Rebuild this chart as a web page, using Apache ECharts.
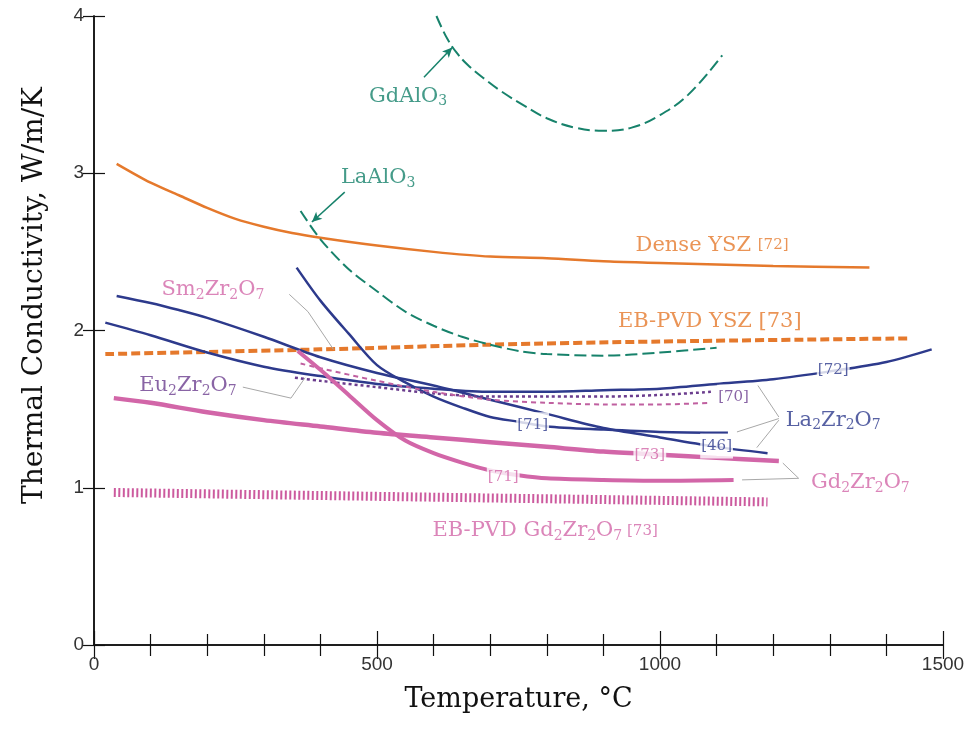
<!DOCTYPE html>
<html><head><meta charset="utf-8">
<script src="https://cdn.jsdelivr.net/npm/echarts@6/dist/echarts.min.js"></script>
<style>html,body{margin:0;padding:0;background:#fff}#c{width:977px;height:732px}</style>
</head><body><div id="c"></div><script>
// ---- data (temperature °C, thermal conductivity W/m/K) ----
const denseYSZ = [[40,3.06],[100,2.94],[150,2.86],[200,2.78],[250,2.71],[300,2.66],[350,2.62],[400,2.59],[500,2.54],[600,2.50],[700,2.47],[800,2.46],[900,2.44],[1000,2.43],[1100,2.42],[1200,2.41],[1370,2.40]];
const ebpvdYSZ = [[20,1.85],[400,1.88],[700,1.91],[1000,1.93],[1440,1.95]];
const gdAlO3 = [[605,4.0],[615,3.92],[625,3.85],[640,3.77],[660,3.69],[690,3.60],[720,3.52],[760,3.43],[800,3.35],[850,3.29],[900,3.27],[950,3.29],[1000,3.37],[1050,3.50],[1110,3.75]];
const laAlO3 = [[365,2.76],[400,2.58],[450,2.39],[500,2.25],[550,2.12],[600,2.03],[650,1.96],[700,1.91],[750,1.87],[800,1.85],[900,1.84],[1000,1.86],[1100,1.89]];
const la72 = [[20,2.05],[100,1.97],[200,1.86],[300,1.77],[400,1.71],[500,1.66],[600,1.63],[700,1.61],[800,1.61],[900,1.62],[1000,1.63],[1100,1.66],[1200,1.69],[1300,1.74],[1400,1.80],[1480,1.88]];
const la46 = [[40,2.22],[100,2.175],[150,2.13],[200,2.08],[300,1.96],[400,1.83],[500,1.73],[600,1.65],[700,1.56],[800,1.47],[900,1.38],[1000,1.32],[1100,1.26],[1190,1.22]];
const la71 = [[358,2.40],[400,2.19],[450,1.98],[500,1.78],[550,1.67],[600,1.58],[650,1.51],[700,1.45],[750,1.42],[800,1.39],[900,1.37],[1000,1.355],[1120,1.35]];
const eu70 = [[355,1.70],[400,1.68],[500,1.64],[600,1.60],[700,1.58],[800,1.58],[900,1.58],[1000,1.59],[1090,1.61]];
const sm70 = [[365,1.79],[400,1.76],[500,1.68],[600,1.61],[700,1.56],[800,1.54],[900,1.53],[1000,1.53],[1090,1.54]];
const gd73 = [[35,1.57],[100,1.54],[200,1.48],[300,1.43],[400,1.39],[500,1.35],[600,1.32],[700,1.29],[800,1.26],[900,1.23],[1000,1.21],[1100,1.19],[1210,1.17]];
const gd71 = [[360,1.87],[400,1.75],[450,1.59],[500,1.43],[550,1.30],[600,1.22],[650,1.16],[700,1.11],[750,1.08],[800,1.06],[900,1.05],[1000,1.045],[1130,1.05]];
const ebpvdGd = [[35,0.97],[600,0.94],[1190,0.91]];
const xTicks = [0, 500, 1000, 1500];
const yTicks = [0, 1, 2, 3, 4];

// ---- styles ----
const ORANGE = '#e5792c', TEAL = '#17826b', NAVY = '#2d3a8c', PURPLE = '#6b3d8e', PINK = '#d266a8', GRAY = '#a8a8a8';
const SERIF = '"DejaVu Serif", serif';
function line(name, data, color, width, type, smooth) {
  return { name, type: 'line', data, showSymbol: false, symbol: 'none', smooth: smooth === undefined ? 0.3 : smooth,
    lineStyle: { color, width, type: type || 'solid', cap: 'butt' }, z: 3, silent: true };
}
const rich = {
  t: { fontFamily: SERIF, fontSize: 21, lineHeight: 25 },
  s: { fontFamily: SERIF, fontSize: 14, lineHeight: 15, verticalAlign: 'bottom' },
  r: { fontFamily: SERIF, fontSize: 15, lineHeight: 25 }
};
function chem(parts) { // e.g. ['Gd',2,'Zr',2,'O',7]
  return parts.map(p => typeof p === 'number' ? '{s|' + p + '}' : '{t|' + p + '}').join('');
}
function ann(coord, text, color, bg) {
  return { value: coord, label: { show: true, position: 'inside', formatter: text, color, rich,
    backgroundColor: bg ? '#fff' : 'transparent', padding: bg ? [0, 1] : 0 } };
}
const annotations = [
  ann([555, 3.49], chem(['GdAlO', 3]), TEAL),
  ann([502, 2.97], chem(['LaAlO', 3]), TEAL),
  ann([1092, 2.54], '{t|Dense YSZ }{r|[72]}', ORANGE),
  ann([1088, 2.06], '{t|EB-PVD YSZ [73]}', ORANGE),
  ann([210, 2.26], chem(['Sm', 2, 'Zr', 2, 'O', 7]), PINK),
  ann([166, 1.65], chem(['Eu', 2, 'Zr', 2, 'O', 7]), PURPLE),
  ann([1306, 1.745], '{r|[72]}', NAVY, true),
  ann([1130, 1.575], '{r|[70]}', PURPLE, true),
  ann([775, 1.40], '{r|[71]}', NAVY, true),
  ann([1100, 1.265], '{r|[46]}', NAVY, true),
  ann([1306, 1.43], chem(['La', 2, 'Zr', 2, 'O', 7]), NAVY),
  ann([982, 1.205], '{r|[73]}', PINK, true),
  ann([723, 1.07], '{r|[71]}', PINK, true),
  ann([1354, 1.03], chem(['Gd', 2, 'Zr', 2, 'O', 7]), PINK),
  ann([797, 0.725], chem(['EB-PVD Gd', 2, 'Zr', 2, 'O', 7]) + '{r| [73]}', PINK)
];
const leaders = [
  [[345, 2.23], [378, 2.12]], [[378, 2.12], [423, 1.88]],
  [[263, 1.64], [348, 1.57]], [[348, 1.57], [373, 1.70]],
  [[1210, 1.45], [1173, 1.65]], [[1210, 1.44], [1136, 1.355]], [[1210, 1.43], [1171, 1.255]],
  [[1245, 1.06], [1217, 1.157]], [[1245, 1.06], [1145, 1.05]]
];
const arrows = [
  [[583, 3.61], [633, 3.80]],
  [[443, 2.88], [385, 2.69]]
];

const axisLineStyle = { color: '#111', width: 1.5 };
const tickStyle = { color: '#111', width: 1.2 };
const option = {
  animation: false,
  backgroundColor: '#fff',
  grid: { left: 94, right: 34, top: 16, bottom: 87, containLabel: false },
  xAxis: [
    { type: 'value', min: 0, max: 1500, interval: 500, position: 'bottom',
      axisLine: { show: true, lineStyle: axisLineStyle },
      axisTick: { show: true, inside: true, length: 14, lineStyle: tickStyle },
      minorTick: { show: true, splitNumber: 5, length: 11, lineStyle: tickStyle },
      splitLine: { show: false },
      axisLabel: { fontFamily: '"Liberation Sans", Arial, sans-serif', fontSize: 19, color: '#333', margin: 10,
        customValues: xTicks, formatter: v => String(v) },
      name: 'Temperature, °C', nameLocation: 'middle', nameGap: 41,
      nameTextStyle: { fontFamily: SERIF, fontSize: 27, color: '#111' } },
    { type: 'value', min: 0, max: 1500, interval: 500, position: 'top',
      axisLine: { show: true, lineStyle: axisLineStyle },
      axisTick: { show: true, inside: true, length: 14, lineStyle: tickStyle },
      minorTick: { show: true, splitNumber: 5, length: 11, lineStyle: tickStyle },
      splitLine: { show: false }, axisLabel: { show: false } }
  ],
  yAxis: [
    { type: 'value', min: 0, max: 4, interval: 1, position: 'left',
      axisLine: { show: true, lineStyle: axisLineStyle },
      axisTick: { show: true, inside: true, length: 11, lineStyle: tickStyle },
      splitLine: { show: false },
      axisLabel: { fontFamily: '"Liberation Sans", Arial, sans-serif', fontSize: 19, color: '#333', margin: 10,
        customValues: yTicks, formatter: v => String(v) },
      name: 'Thermal Conductivity, W/m/K', nameLocation: 'middle', nameGap: 45, nameRotate: 90,
      nameTextStyle: { fontFamily: SERIF, fontSize: 28, color: '#111', padding: [0, 0, 0, 70] } },
    { type: 'value', min: 0, max: 4, interval: 1, position: 'right',
      axisLine: { show: true, lineStyle: axisLineStyle },
      axisTick: { show: true, inside: true, length: 11, lineStyle: tickStyle },
      splitLine: { show: false }, axisLabel: { show: false } }
  ],
  series: [
    line('Dense YSZ [72]', denseYSZ, ORANGE, 2.5),
    line('EB-PVD YSZ [73]', ebpvdYSZ, ORANGE, 4, [9, 4]),
    line('GdAlO3', gdAlO3, TEAL, 2, [12, 5], 0.4),
    line('LaAlO3', laAlO3, TEAL, 2, [12, 5]),
    line('La2Zr2O7 [72]', la72, NAVY, 2.5),
    line('La2Zr2O7 [46]', la46, NAVY, 2.5),
    line('La2Zr2O7 [71]', la71, NAVY, 2.5),
    line('Eu2Zr2O7 [70]', eu70, PURPLE, 2.5, [3, 3]),
    line('Sm2Zr2O7 [70]', sm70, '#c060a0', 2, [5, 4]),
    line('Gd2Zr2O7 [73]', gd73, PINK, 4.5),
    line('Gd2Zr2O7 [71]', gd71, PINK, 4),
    line('EB-PVD Gd2Zr2O7 [73]', ebpvdGd, '#cc5a9e', 9, [2, 2.5], false),
    { name: 'leaders', type: 'line', data: [], silent: true, z: 4,
      markLine: { silent: true, symbol: ['none', 'none'], label: { show: false },
        lineStyle: { color: GRAY, width: 1, type: 'solid' },
        data: leaders.map(([a, b]) => [{ coord: a }, { coord: b }]) } },
    { name: 'arrows', type: 'line', data: [], silent: true, z: 4,
      markLine: { silent: true, symbol: ['none', 'arrow'], symbolSize: [7, 10], label: { show: false },
        lineStyle: { color: TEAL, width: 1.5, type: 'solid' },
        data: arrows.map(([a, b]) => [{ coord: a }, { coord: b }]) } },
    { name: 'labels', type: 'scatter', symbolSize: 0, data: annotations, z: 10, silent: true }
  ]
};
const chart = echarts.init(document.getElementById('c'), null, { renderer: 'canvas' });
chart.setOption(option);
</script></body></html>
